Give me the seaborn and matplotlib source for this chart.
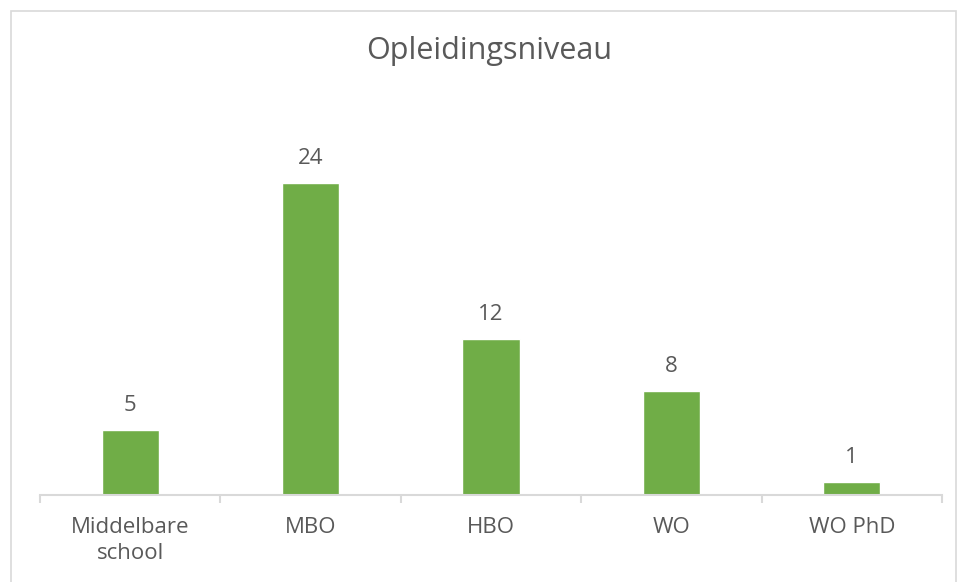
import matplotlib
matplotlib.use("Agg")
import matplotlib.pyplot as plt
import seaborn as sns
import pandas as pd
from matplotlib.patches import Rectangle

# data
niveaus = ["Middelbare\nschool", "MBO", "HBO", "WO", "WO PhD"]
aantallen = [5, 24, 12, 8, 1]

df = pd.DataFrame({"Niveau": niveaus, "Aantal": aantallen})

sns.set_style("white")
plt.rcParams['font.family'] = ['Open Sans', 'DejaVu Sans']
tekst = '#595959'

fig = plt.figure(figsize=(9.58, 5.82), dpi=100)
ax = fig.add_axes([40 / 958, 1 - 495 / 582, 902 / 958, 390 / 582])

sns.barplot(x='Niveau', y='Aantal', data=df, color='#70AD47', width=0.316,
            saturation=1, ax=ax)

ax.set_ylim(0, 30)
ax.set_xlim(-0.5, len(niveaus) - 0.5)
ax.set_yticks([])
ax.set_xlabel('')
ax.set_ylabel('')
for s in ['top', 'left', 'right']:
    ax.spines[s].set_visible(False)
ax.spines['bottom'].set_color('#D9D9D9')
ax.spines['bottom'].set_linewidth(1.5)

# ticks op de categoriegrenzen
ax.set_xticks([i - 0.5 for i in range(len(niveaus) + 1)], minor=True)
ax.tick_params(axis='x', which='minor', bottom=True, length=6, color='#D9D9D9', width=1.5)
ax.tick_params(axis='x', which='major', bottom=False, length=0, pad=16, labelsize=16,
               labelcolor=tekst)
for lbl in ax.get_xticklabels():
    lbl.set_linespacing(1.3)

for c in ax.containers:
    ax.bar_label(c, padding=10, fontsize=16, color=tekst)

fig.text(0.511, 1 - 51 / 582, 'Opleidingsniveau', ha='center', va='center',
         fontsize=22, color=tekst)

# kader rond de grafiek
fig.patches.append(Rectangle((11 / 958, -0.05), 945 / 958, 1 - 11 / 582 + 0.05,
                             transform=fig.transFigure, fill=False,
                             edgecolor='#D9D9D9', linewidth=1.2))

fig.savefig('out.png', dpi=100)
